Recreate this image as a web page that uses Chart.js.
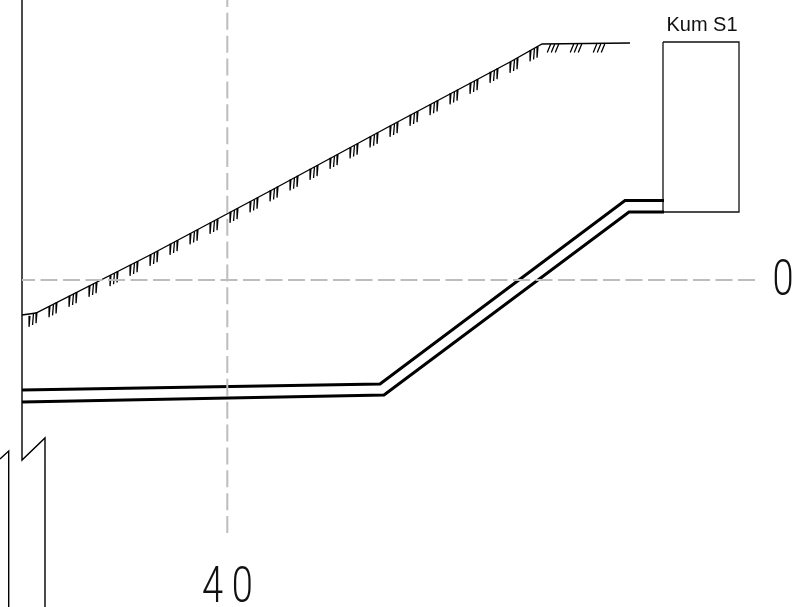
<!DOCTYPE html>
<html lang="en">

<head>
    <meta charset="UTF-8">
    <title>Kum S1</title>
    <script src="https://cdn.jsdelivr.net/npm/chart.js"></script>
    <style>
        html, body { margin: 0; padding: 0; background: #fff; }
        canvas { display: block; }
    </style>
</head>

<body>
    <canvas id="profile" width="808" height="607"></canvas>

    <script>
        // Section values: x = distance along the section, y = height above the 0 datum
        const groundX = [22, 36, 150, 270, 390, 510, 542, 630];
        const groundY = [-35, -33, 25, 89, 154, 218, 236, 237];

        const pipeTopX = [22, 380, 625, 664];
        const pipeTopY = [-110, -104, 79.5, 79.5];
        const pipeBottomX = [22, 384, 629, 664];
        const pipeBottomY = [-122, -115, 68, 68];

        const tankX = [663, 739, 739, 663, 663];
        const tankY = [238, 238, 68, 68, 238];

        const wallX = [22, 22, 45, 45];
        const wallY = [280, -180, -158, -327];
        const wall2X = [0, 8.7, 8.7];
        const wall2Y = [-179, -171, -327];

        const datumX = [755, 22];
        const datumY = [0, 0];
        const stationX = [227.3, 227.3];
        const stationY = [-253, 280];

        // hatch marks under the ground line
        const slopeHatchX = [33, 53, 73, 93, 114, 134, 154, 174, 194, 214, 234, 254, 274, 294, 314, 334, 354, 374, 394, 414, 434, 454, 474, 494, 514, 534];
        const slopeHatchY = [-34, -24.4, -14, -4, 6.7, 17, 27, 38, 48.5, 59, 70, 80.5, 91.5, 102.3, 113, 124, 134.5, 145.3, 156, 167, 177.7, 188.5, 199, 210, 220, 231.5];
        const flatHatchX = [553, 576, 599];
        const flatHatchY = [236, 236, 236];

        const labelTexts = ['Kum S1', '0', '40'];
        const labelX = [702, 783, 231.8];
        const labelY = [249, -15, -321.5];

        const xy = (xs, ys) => xs.map((x, i) => ({ x: x, y: ys[i] }));

        // three short ticks per anchor, split by gaps
        function hatch(xs, ys, gap, slope, tilt, length) {
            const pts = [];
            xs.forEach((x, i) => {
                [-gap, 0, gap].forEach(d => {
                    const top = ys[i] + d * slope;
                    pts.push({ x: x + d + tilt / 2, y: top });
                    pts.push({ x: x + d - tilt / 2, y: top - length });
                    pts.push({ x: NaN, y: NaN });
                });
            });
            return pts;
        }

        function line(data, color, width, dash) {
            return {
                data: data,
                borderColor: color,
                borderWidth: width,
                borderDash: dash || [],
                showLine: true,
                pointRadius: 0,
                spanGaps: false,
                tension: 0
            };
        }

        // labels sit on the chart scales, digits are squeezed like drafting lettering
        const labelPlugin = {
            id: 'labels',
            afterDatasetsDraw(chart) {
                const ctx = chart.ctx;
                labelTexts.forEach((text, i) => {
                    const px = chart.scales.x.getPixelForValue(labelX[i]);
                    const py = chart.scales.y.getPixelForValue(labelY[i]);
                    ctx.save();
                    ctx.textAlign = 'center';
                    ctx.textBaseline = 'alphabetic';
                    ctx.fillStyle = '#111';
                    ctx.translate(px, py);
                    if (i === 0) {
                        ctx.font = '20px "Liberation Sans"';
                    } else {
                        ctx.font = '300 50px Roboto';
                        ctx.scale(0.76, 1);
                        if (text.length > 1) ctx.letterSpacing = '11.4px';
                    }
                    ctx.fillText(text, 0, 0);
                    ctx.restore();
                });
            }
        };

        new Chart(document.getElementById('profile').getContext('2d'), {
            type: 'scatter',
            data: {
                datasets: [
                    line(xy(datumX, datumY), '#bdbdbd', 2, [17, 5.5]),
                    line(xy(stationX, stationY), '#bdbdbd', 2, [17, 5.87]),
                    line(xy(groundX, groundY), '#000', 1.4),
                    line(hatch(slopeHatchX, slopeHatchY, 3.5, 0.53, 0.9, 11), '#000', 1.3),
                    line(hatch(flatHatchX, flatHatchY, 4, 0, 3.5, 8.5), '#000', 1.3),
                    line(xy(pipeTopX, pipeTopY), '#000', 3),
                    line(xy(pipeBottomX, pipeBottomY), '#000', 3),
                    line(xy(tankX, tankY), '#111', 1.3),
                    line(xy(wallX, wallY), '#000', 1.4),
                    line(xy(wall2X, wall2Y), '#000', 1.4)
                ]
            },
            options: {
                responsive: false,
                animation: false,
                layout: { padding: 0 },
                plugins: {
                    legend: { display: false },
                    tooltip: { enabled: false }
                },
                scales: {
                    x: { type: 'linear', min: 0, max: 808, display: false },
                    y: { type: 'linear', min: -327, max: 280, display: false }
                }
            },
            plugins: [labelPlugin]
        });
    </script>
</body>

</html>
